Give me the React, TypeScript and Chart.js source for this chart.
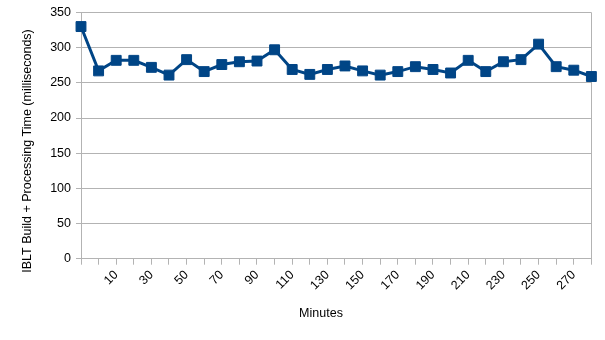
import React, { useEffect, useRef } from "react";
import { Chart, registerables } from "chart.js";

Chart.register(...registerables);

const categories: string[] = [
  "", "0", "10", "20", "30", "40", "50", "60", "70", "80", "90", "100",
  "110", "120", "130", "140", "150", "160", "170", "180", "190", "200",
  "210", "220", "230", "240", "250", "260", "270", "280",
];

const buildTimes: number[] = [
  330, 267, 282, 282, 272, 261, 283, 266, 276, 280, 281, 297,
  269, 262, 269, 274, 267, 261, 266, 273, 269, 264, 282, 266,
  280, 283, 305, 273, 268, 259,
];

const yTitle = "IBLT Build + Processing Time (milliseconds)";
const xTitle = "Minutes";

const FONT = "'Liberation Sans', Arial, sans-serif";
const GRID = "#b3b3b3";

const titlePlugin = {
  id: "customTitles",
  afterDraw(chart: any) {
    const ctx = chart.ctx;
    ctx.save();
    ctx.fillStyle = "#000";
    ctx.font = `12.5px ${FONT}`;
    ctx.textAlign = "center";
    ctx.textBaseline = "middle";
    ctx.fillText(xTitle, 321, 314);
    ctx.translate(28, 151);
    ctx.rotate(-Math.PI / 2);
    ctx.fillText(yTitle, 0, 0);
    ctx.restore();
  },
};

export default function App() {
  const ref = useRef<HTMLCanvasElement | null>(null);

  useEffect(() => {
    document.body.style.margin = "0";
    const canvas = ref.current;
    if (!canvas) return;
    const chart = new Chart(canvas, {
      type: "line",
      data: {
        labels: categories,
        datasets: [
          {
            data: buildTimes,
            borderColor: "#004586",
            backgroundColor: "#004586",
            borderWidth: 3,
            pointStyle: "rect",
            pointRadius: 7,
            pointBorderWidth: 1,
            pointBackgroundColor: "#004586",
            pointBorderColor: "#004586",
            tension: 0,
          },
        ],
      },
      options: {
        responsive: false,
        animation: false,
        layout: { padding: { left: 0, right: 12, top: 11.7, bottom: 0 } },
        plugins: { legend: { display: false }, tooltip: { enabled: false } },
        scales: {
          x: {
            offset: false,
            grid: {
              color: (c: any) => (c.index === categories.length - 1 ? GRID : "rgba(0,0,0,0)"),
              tickColor: GRID,
              tickLength: 6,
              drawOnChartArea: true,
            },
            border: { color: GRID },
            ticks: {
              autoSkip: false,
              minRotation: 45,
              maxRotation: 45,
              padding: 3,
              color: "#000",
              font: { family: FONT, size: 12.5 },
              callback: (_v: any, i: number) => (i % 2 === 0 ? categories[i] : ""),
            },
            afterFit: (s: any) => {
              s.height = 340 - 258.7;
            },
          },
          y: {
            min: 0,
            max: 350,
            grid: { color: GRID, tickColor: GRID, tickLength: 5 },
            border: { color: GRID },
            ticks: {
              stepSize: 50,
              padding: 5,
              color: "#000",
              font: { family: FONT, size: 12.5 },
            },
            afterFit: (s: any) => {
              s.width = 81;
            },
          },
        },
      },
      plugins: [titlePlugin],
    });
    return () => chart.destroy();
  }, []);

  return (
    <div style={{ width: 605, height: 340 }}>
      <canvas ref={ref} width={605} height={340} />
    </div>
  );
}
